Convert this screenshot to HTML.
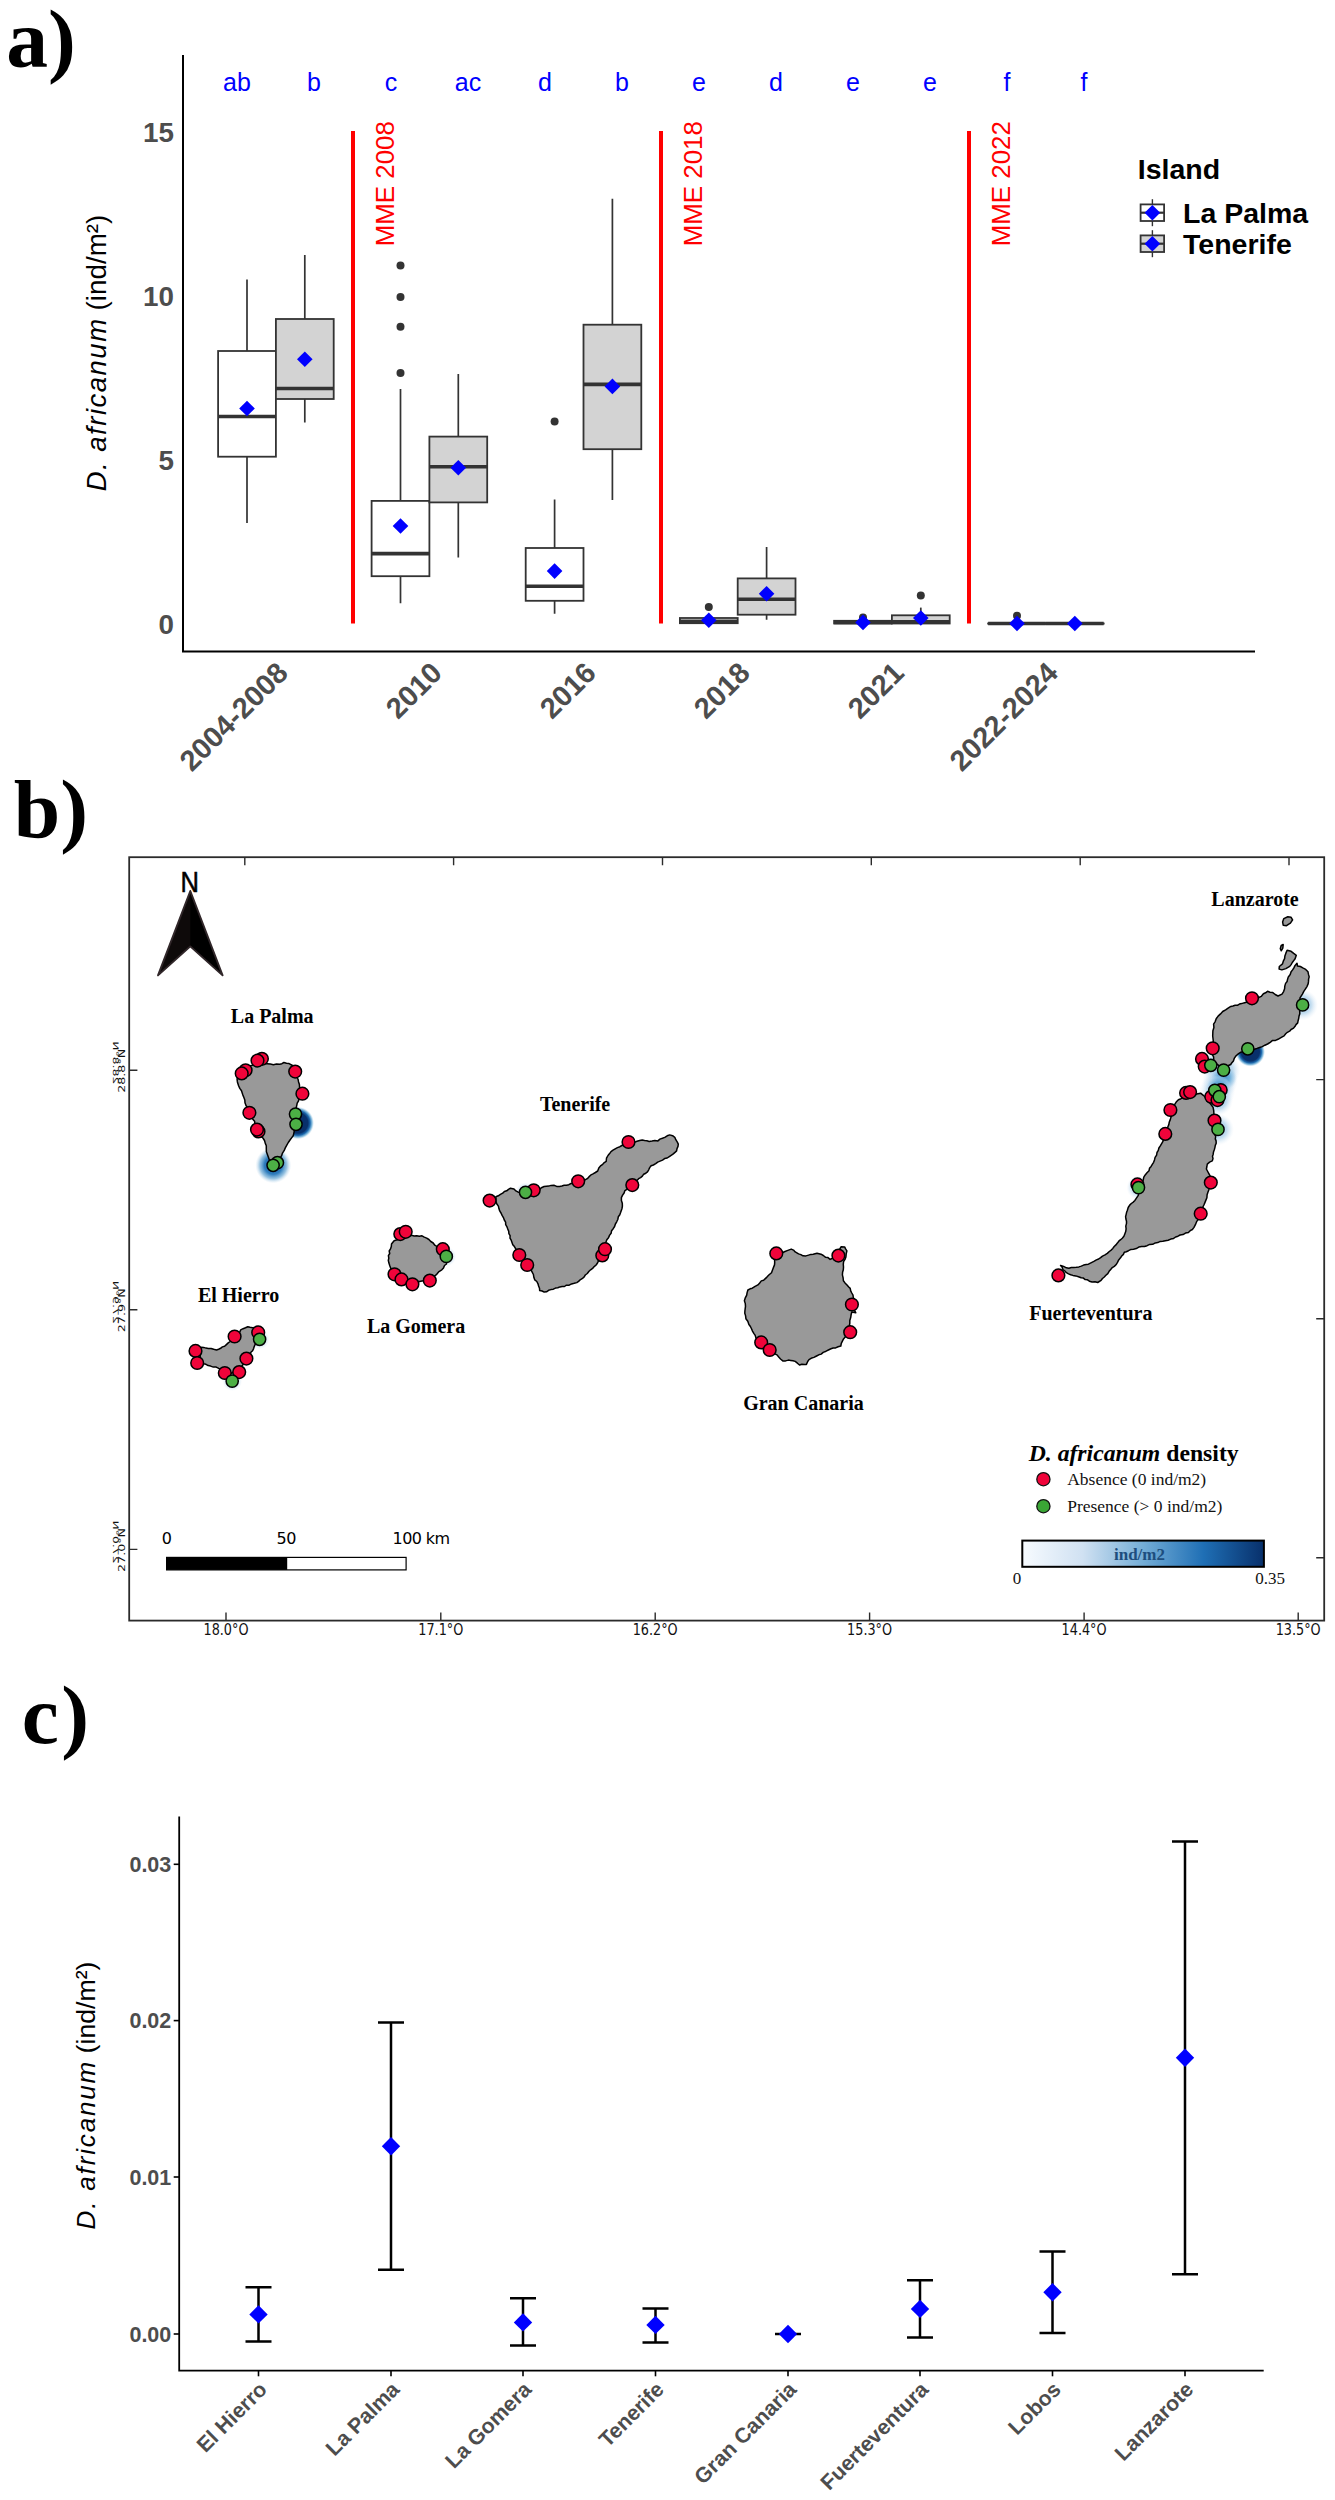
<!DOCTYPE html>
<html lang="en"><head><meta charset="utf-8"><title>D. africanum density figure</title>
<style>
html,body{margin:0;padding:0;background:#fff}
svg{display:block}
text{font-family:'Liberation Sans', sans-serif}
.ser{font-family:'Liberation Serif', serif}
</style></head><body>
<svg width="1335" height="2500" viewBox="0 0 1335 2500">
<rect width="1335" height="2500" fill="#fff"/>
<!-- panel a -->
<text class="ser" x="6.3" y="67.2" font-size="83.5" font-weight="bold" fill="#000">a)</text>
<path d="M183 55V651.5H1255" fill="none" stroke="#000" stroke-width="2"/>
<text x="174" y="141.5" font-size="27.8" font-weight="bold" fill="#4d4d4d" text-anchor="end">15</text>
<text x="174" y="305.5" font-size="27.8" font-weight="bold" fill="#4d4d4d" text-anchor="end">10</text>
<text x="174" y="469.5" font-size="27.8" font-weight="bold" fill="#4d4d4d" text-anchor="end">5</text>
<text x="174" y="633.5" font-size="27.8" font-weight="bold" fill="#4d4d4d" text-anchor="end">0</text>
<text transform="translate(106 353) rotate(-90)" font-size="27.5" fill="#000" text-anchor="middle"><tspan font-style="italic" letter-spacing="1.5">D. africanum</tspan><tspan dx="7" font-size="27.8">(ind/m²)</tspan></text>
<text x="237.0" y="91.3" font-size="25" fill="#0000ff" text-anchor="middle">ab</text>
<text x="314.0" y="91.3" font-size="25" fill="#0000ff" text-anchor="middle">b</text>
<text x="391.0" y="91.3" font-size="25" fill="#0000ff" text-anchor="middle">c</text>
<text x="468.0" y="91.3" font-size="25" fill="#0000ff" text-anchor="middle">ac</text>
<text x="545.0" y="91.3" font-size="25" fill="#0000ff" text-anchor="middle">d</text>
<text x="622.0" y="91.3" font-size="25" fill="#0000ff" text-anchor="middle">b</text>
<text x="699.0" y="91.3" font-size="25" fill="#0000ff" text-anchor="middle">e</text>
<text x="776.0" y="91.3" font-size="25" fill="#0000ff" text-anchor="middle">d</text>
<text x="853.0" y="91.3" font-size="25" fill="#0000ff" text-anchor="middle">e</text>
<text x="930.0" y="91.3" font-size="25" fill="#0000ff" text-anchor="middle">e</text>
<text x="1007.0" y="91.3" font-size="25" fill="#0000ff" text-anchor="middle">f</text>
<text x="1084.0" y="91.3" font-size="25" fill="#0000ff" text-anchor="middle">f</text>
<line x1="353" y1="131" x2="353" y2="623.5" stroke="#f00" stroke-width="4"/>
<text transform="translate(393.8 246.3) rotate(-90)" font-size="25.9" fill="#f00">MME 2008</text>
<line x1="661" y1="131" x2="661" y2="623.5" stroke="#f00" stroke-width="4"/>
<text transform="translate(701.8 246.3) rotate(-90)" font-size="25.9" fill="#f00">MME 2018</text>
<line x1="969" y1="131" x2="969" y2="623.5" stroke="#f00" stroke-width="4"/>
<text transform="translate(1009.8 246.3) rotate(-90)" font-size="25.9" fill="#f00">MME 2022</text>
<path d="M247.0 279.5V351.0M247.0 456.7V523.0" stroke="#333" stroke-width="1.7" fill="none"/><rect x="218.1" y="351.0" width="57.8" height="105.7" fill="#fff" stroke="#333" stroke-width="1.8"/><line x1="218.1" x2="275.9" y1="416.5" y2="416.5" stroke="#333" stroke-width="3.6"/>
<path d="M304.8 255.0V319.0M304.8 399.0V422.6" stroke="#333" stroke-width="1.7" fill="none"/><rect x="275.9" y="319.0" width="57.8" height="80.0" fill="#d3d3d3" stroke="#333" stroke-width="1.8"/><line x1="275.9" x2="333.7" y1="388.5" y2="388.5" stroke="#333" stroke-width="3.6"/>
<path d="M400.5 389.0V500.9M400.5 576.2V603.3" stroke="#333" stroke-width="1.7" fill="none"/><rect x="371.6" y="500.9" width="57.8" height="75.3" fill="#fff" stroke="#333" stroke-width="1.8"/><line x1="371.6" x2="429.4" y1="553.6" y2="553.6" stroke="#333" stroke-width="3.6"/><circle cx="400.5" cy="265.5" r="4" fill="#333"/><circle cx="400.5" cy="297.0" r="4" fill="#333"/><circle cx="400.5" cy="326.7" r="4" fill="#333"/><circle cx="400.5" cy="372.9" r="4" fill="#333"/>
<path d="M458.3 373.9V436.6M458.3 502.4V557.6" stroke="#333" stroke-width="1.7" fill="none"/><rect x="429.4" y="436.6" width="57.8" height="65.8" fill="#d3d3d3" stroke="#333" stroke-width="1.8"/><line x1="429.4" x2="487.2" y1="466.8" y2="466.8" stroke="#333" stroke-width="3.6"/>
<path d="M554.6 499.4V548.0M554.6 600.8V613.8" stroke="#333" stroke-width="1.7" fill="none"/><rect x="525.7" y="548.0" width="57.8" height="52.8" fill="#fff" stroke="#333" stroke-width="1.8"/><line x1="525.7" x2="583.5" y1="586.2" y2="586.2" stroke="#333" stroke-width="3.6"/><circle cx="554.6" cy="421.6" r="4" fill="#333"/>
<path d="M612.4 198.7V324.7M612.4 449.2V499.9" stroke="#333" stroke-width="1.7" fill="none"/><rect x="583.5" y="324.7" width="57.8" height="124.5" fill="#d3d3d3" stroke="#333" stroke-width="1.8"/><line x1="583.5" x2="641.3" y1="384.4" y2="384.4" stroke="#333" stroke-width="3.6"/>
<path d="M708.8 618.0V618.0M708.8 623.2V623.2" stroke="#333" stroke-width="1.7" fill="none"/><rect x="679.9" y="618.0" width="57.8" height="5.2" fill="#fff" stroke="#333" stroke-width="1.8"/><line x1="679.9" x2="737.7" y1="621.3" y2="621.3" stroke="#333" stroke-width="3.6"/><circle cx="708.8" cy="607.0" r="4" fill="#333"/>
<path d="M766.6 547.0V578.4M766.6 614.7V619.7" stroke="#333" stroke-width="1.7" fill="none"/><rect x="737.7" y="578.4" width="57.8" height="36.3" fill="#d3d3d3" stroke="#333" stroke-width="1.8"/><line x1="737.7" x2="795.5" y1="599.3" y2="599.3" stroke="#333" stroke-width="3.6"/>
<path d="M863.0 620.8V620.8M863.0 623.5V623.5" stroke="#333" stroke-width="1.7" fill="none"/><rect x="834.1" y="620.8" width="57.8" height="2.7" fill="#fff" stroke="#333" stroke-width="1.8"/><line x1="834.1" x2="891.9" y1="622.4" y2="622.4" stroke="#333" stroke-width="3.6"/><circle cx="863.0" cy="617.5" r="4" fill="#333"/>
<path d="M920.8 607.6V615.3M920.8 623.5V623.5" stroke="#333" stroke-width="1.7" fill="none"/><rect x="891.9" y="615.3" width="57.8" height="8.2" fill="#d3d3d3" stroke="#333" stroke-width="1.8"/><line x1="891.9" x2="949.7" y1="621.9" y2="621.9" stroke="#333" stroke-width="3.6"/><circle cx="920.8" cy="595.4" r="4" fill="#333"/>
<path d="M1017.0 623.5V623.5M1017.0 623.5V623.5" stroke="#333" stroke-width="1.7" fill="none"/><rect x="988.1" y="623.5" width="57.8" height="0.1" fill="#fff" stroke="#333" stroke-width="1.8"/><line x1="988.1" x2="1045.9" y1="623.5" y2="623.5" stroke="#333" stroke-width="3.6"/><circle cx="1017.0" cy="615.8" r="4" fill="#333"/>
<path d="M1074.8 623.5V623.5M1074.8 623.5V623.5" stroke="#333" stroke-width="1.7" fill="none"/><rect x="1045.9" y="623.5" width="57.8" height="0.1" fill="#d3d3d3" stroke="#333" stroke-width="1.8"/><line x1="1045.9" x2="1103.7" y1="623.5" y2="623.5" stroke="#333" stroke-width="3.6"/>
<path d="M247.0 400.7L254.8 408.5L247.0 416.3L239.2 408.5Z" fill="#0000ff"/>
<path d="M304.8 351.5L312.6 359.3L304.8 367.1L297.0 359.3Z" fill="#0000ff"/>
<path d="M400.5 518.2L408.3 526.0L400.5 533.8L392.7 526.0Z" fill="#0000ff"/>
<path d="M458.3 460.0L466.1 467.8L458.3 475.6L450.5 467.8Z" fill="#0000ff"/>
<path d="M554.6 563.3L562.4 571.1L554.6 578.9L546.8 571.1Z" fill="#0000ff"/>
<path d="M612.4 378.6L620.2 386.4L612.4 394.2L604.6 386.4Z" fill="#0000ff"/>
<path d="M708.8 612.4L716.6 620.2L708.8 628.0L701.0 620.2Z" fill="#0000ff"/>
<path d="M766.6 586.0L774.4 593.8L766.6 601.6L758.8 593.8Z" fill="#0000ff"/>
<path d="M863.0 614.6L870.8 622.4L863.0 630.2L855.2 622.4Z" fill="#0000ff"/>
<path d="M920.8 610.2L928.6 618.0L920.8 625.8L913.0 618.0Z" fill="#0000ff"/>
<path d="M1017.0 615.7L1024.8 623.5L1017.0 631.3L1009.2 623.5Z" fill="#0000ff"/>
<path d="M1074.8 615.7L1082.6 623.5L1074.8 631.3L1067.0 623.5Z" fill="#0000ff"/>
<text transform="translate(289.7 674.6) rotate(-45)" font-size="29" font-weight="bold" fill="#4d4d4d" text-anchor="end">2004-2008</text>
<text transform="translate(443.7 674.6) rotate(-45)" font-size="29" font-weight="bold" fill="#4d4d4d" text-anchor="end">2010</text>
<text transform="translate(597.7 674.6) rotate(-45)" font-size="29" font-weight="bold" fill="#4d4d4d" text-anchor="end">2016</text>
<text transform="translate(751.7 674.6) rotate(-45)" font-size="29" font-weight="bold" fill="#4d4d4d" text-anchor="end">2018</text>
<text transform="translate(905.7 674.6) rotate(-45)" font-size="29" font-weight="bold" fill="#4d4d4d" text-anchor="end">2021</text>
<text transform="translate(1059.7 674.6) rotate(-45)" font-size="29" font-weight="bold" fill="#4d4d4d" text-anchor="end">2022-2024</text>
<text x="1137.8" y="179.3" font-size="28.5" font-weight="bold" fill="#000">Island</text>
<line x1="1152.4" x2="1152.4" y1="199.2" y2="226.2" stroke="#333" stroke-width="1.4"/>
<rect x="1140.6" y="204.39999999999998" width="23.5" height="16.6" fill="#fff" stroke="#333" stroke-width="1.8"/>
<line x1="1140.6" x2="1164.1" y1="212.7" y2="212.7" stroke="#333" stroke-width="2.2"/>
<path d="M1152.4 204.9L1160.2 212.7L1152.4 220.5L1144.6 212.7Z" fill="#0000ff"/>
<text x="1183" y="222.5" font-size="28.5" font-weight="bold" fill="#000">La Palma</text>
<line x1="1152.4" x2="1152.4" y1="230.2" y2="257.2" stroke="#333" stroke-width="1.4"/>
<rect x="1140.6" y="235.39999999999998" width="23.5" height="16.6" fill="#d3d3d3" stroke="#333" stroke-width="1.8"/>
<line x1="1140.6" x2="1164.1" y1="243.7" y2="243.7" stroke="#333" stroke-width="2.2"/>
<path d="M1152.4 235.9L1160.2 243.7L1152.4 251.5L1144.6 243.7Z" fill="#0000ff"/>
<text x="1183" y="253.5" font-size="28.5" font-weight="bold" fill="#000">Tenerife</text>
<!-- panel b -->
<text class="ser" x="13.8" y="837.3" font-size="83.5" font-weight="bold" fill="#000">b)</text>
<defs>
<linearGradient id="cbar" x1="0" x2="1" y1="0" y2="0">
<stop offset="0" stop-color="#f7fbff"/><stop offset="0.25" stop-color="#d0e1f2"/><stop offset="0.5" stop-color="#74add6"/><stop offset="0.75" stop-color="#1f6fb5"/><stop offset="1" stop-color="#08306b"/>
</linearGradient>
<radialGradient id="hotD"><stop offset="0" stop-color="#08306b"/><stop offset="0.62" stop-color="#08306b"/><stop offset="0.76" stop-color="#1c69ae"/><stop offset="0.88" stop-color="#6aaed6" stop-opacity="0.75"/><stop offset="1" stop-color="#c6def0" stop-opacity="0"/></radialGradient>
<radialGradient id="hotM"><stop offset="0" stop-color="#0b4f97"/><stop offset="0.5" stop-color="#2f7dbd"/><stop offset="0.75" stop-color="#7fb5da" stop-opacity="0.8"/><stop offset="1" stop-color="#c6def0" stop-opacity="0"/></radialGradient>
<radialGradient id="hotS"><stop offset="0" stop-color="#3f8fc8"/><stop offset="0.45" stop-color="#62a8d8" stop-opacity="0.9"/><stop offset="0.8" stop-color="#a5cde9" stop-opacity="0.55"/><stop offset="1" stop-color="#d3e6f4" stop-opacity="0"/></radialGradient>
<radialGradient id="hotL"><stop offset="0" stop-color="#86bbdf" stop-opacity="0.95"/><stop offset="0.55" stop-color="#b3d4ec" stop-opacity="0.8"/><stop offset="1" stop-color="#e3eef8" stop-opacity="0"/></radialGradient>
</defs>
<circle cx="1302.6" cy="1004.9" r="15.5" fill="url(#hotL)"/>
<circle cx="1223.6" cy="1070.1" r="17" fill="url(#hotL)"/>
<circle cx="1220.1" cy="1080.7" r="18" fill="url(#hotL)"/>
<circle cx="1217.2" cy="1091.3" r="18" fill="url(#hotL)"/>
<circle cx="1218.0" cy="1100.7" r="15" fill="url(#hotL)"/>
<circle cx="1218.0" cy="1129.4" r="16" fill="url(#hotL)"/>
<circle cx="1138.5" cy="1187.6" r="12" fill="url(#hotL)"/>
<circle cx="1210.8" cy="1065.3" r="12" fill="url(#hotL)"/>
<circle cx="259.6" cy="1339.3" r="10" fill="url(#hotL)"/>
<circle cx="232.2" cy="1381.1" r="10" fill="url(#hotL)"/>
<circle cx="446.3" cy="1256.4" r="10" fill="url(#hotL)"/>
<circle cx="525.5" cy="1192.3" r="10" fill="url(#hotL)"/>
<circle cx="1223.5" cy="1077.5" r="13.5" fill="url(#hotS)"/>
<circle cx="1218.5" cy="1087.5" r="12.5" fill="url(#hotS)"/>
<circle cx="273.3" cy="1165.3" r="18" fill="url(#hotM)"/>
<circle cx="297.8" cy="1123.0" r="16.3" fill="url(#hotD)"/>
<circle cx="1250.3" cy="1051.8" r="14.8" fill="url(#hotD)"/>
<path d="M237.1 1079.3L238.3 1075.1L240.0 1073.2L242.0 1071.5L244.6 1069.7L247.1 1067.5L249.6 1066.0L252.5 1065.3L255.5 1064.3L258.7 1063.9L261.6 1064.5L264.3 1063.7L267.1 1063.7L270.3 1064.1L273.4 1064.7L276.5 1064.0L279.7 1064.2L281.9 1063.7L283.9 1062.5L286.5 1063.3L289.1 1063.6L292.5 1065.5L293.3 1068.4L294.9 1070.9L295.9 1072.9L297.0 1074.9L296.9 1077.3L298.1 1079.3L298.6 1082.0L299.4 1084.5L299.6 1087.7L299.9 1090.8L299.9 1093.5L299.0 1096.0L299.0 1098.7L298.4 1101.2L297.2 1103.2L296.7 1105.6L296.1 1108.2L295.1 1110.8L294.3 1113.1L294.7 1115.5L294.4 1117.8L294.5 1120.2L294.4 1122.8L294.5 1125.4L294.5 1128.0L294.3 1130.7L293.8 1133.3L293.2 1135.8L291.6 1137.9L290.0 1140.0L288.3 1142.5L286.8 1145.2L285.3 1147.9L284.1 1150.7L282.5 1153.1L281.6 1155.7L279.6 1158.8L277.6 1160.0L275.5 1161.0L271.2 1161.4L269.4 1160.0L268.5 1157.4L267.5 1154.8L266.4 1151.8L266.3 1148.5L266.3 1145.8L265.3 1143.4L264.5 1140.5L262.9 1138.0L261.1 1136.7L259.7 1134.9L259.2 1132.5L258.4 1130.2L256.9 1128.1L256.4 1125.7L254.9 1123.7L254.6 1121.2L252.8 1119.2L251.6 1117.0L250.6 1113.9L248.8 1111.3L248.0 1108.2L246.0 1105.5L245.0 1102.8L244.8 1099.9L243.8 1097.2L242.9 1095.1L242.2 1093.0L241.5 1090.8L239.8 1088.4L238.6 1085.7L237.4 1081.9Z" fill="#999" stroke="#000" stroke-width="1.5" stroke-linejoin="round"/>
<path d="M201.4 1347.3L203.7 1347.4L206.0 1348.1L208.3 1348.4L211.1 1348.5L213.7 1349.3L216.5 1350.0L218.6 1349.2L220.6 1348.3L222.4 1346.9L224.6 1346.3L226.4 1344.6L228.2 1342.9L230.2 1341.5L232.1 1339.9L234.5 1338.9L236.3 1337.1L238.0 1334.9L239.6 1332.5L240.7 1329.9L243.1 1328.7L245.5 1327.8L247.8 1326.7L250.0 1327.3L252.4 1327.7L255.0 1327.6L255.8 1329.7L256.9 1331.7L258.2 1333.5L258.2 1336.3L257.5 1338.9L257.3 1341.7L255.5 1343.8L254.4 1346.1L253.6 1348.6L252.6 1350.7L250.9 1352.3L250.1 1354.4L248.6 1356.1L247.5 1358.1L246.6 1360.2L245.2 1362.2L243.4 1364.0L242.0 1366.1L240.3 1367.9L238.2 1369.3L236.1 1370.5L234.1 1372.3L231.4 1373.2L228.7 1371.7L225.7 1370.8L223.4 1369.9L221.1 1369.2L218.7 1368.4L216.2 1367.1L213.3 1367.1L210.6 1366.1L208.2 1365.6L206.0 1364.3L203.6 1363.8L202.4 1361.9L201.6 1359.7L200.1 1357.9L200.3 1355.0L200.4 1352.1L200.3 1349.7Z" fill="#999" stroke="#000" stroke-width="1.5" stroke-linejoin="round"/>
<path d="M394.1 1240.7L397.1 1239.7L399.9 1238.5L402.3 1238.2L404.6 1237.4L407.0 1237.0L409.0 1235.4L411.5 1235.3L414.1 1236.0L416.7 1235.8L419.3 1236.3L422.0 1235.8L424.3 1237.1L426.7 1238.1L428.9 1239.5L430.8 1241.5L433.2 1243.0L434.8 1245.2L437.2 1246.6L439.1 1248.8L441.6 1250.0L443.5 1252.0L444.5 1254.7L446.5 1256.9L446.2 1259.2L446.7 1261.5L446.5 1264.0L444.5 1265.5L443.5 1267.9L441.8 1269.8L439.0 1271.6L436.9 1274.1L434.8 1276.0L432.1 1277.0L430.1 1278.9L427.3 1279.5L424.7 1280.8L421.9 1281.0L419.6 1281.4L417.2 1281.3L414.9 1281.7L412.6 1282.5L410.3 1282.0L407.9 1281.6L405.6 1281.1L403.2 1280.3L400.9 1278.7L398.8 1276.9L396.2 1275.6L395.1 1273.6L393.4 1272.1L391.9 1270.4L390.8 1268.5L389.8 1265.8L388.9 1263.1L388.3 1260.4L388.8 1258.1L388.4 1255.7L389.7 1253.5L389.2 1251.0L390.5 1248.9L391.3 1246.6L391.5 1244.0Z" fill="#999" stroke="#000" stroke-width="1.5" stroke-linejoin="round"/>
<path d="M495.9 1196.8L498.3 1195.8L500.4 1194.4L502.7 1193.1L504.4 1191.5L506.7 1190.8L508.5 1189.3L510.5 1188.2L514.0 1188.9L515.9 1190.9L518.2 1192.2L520.9 1192.5L523.4 1192.2L526.0 1191.6L528.6 1191.5L531.2 1191.3L533.7 1190.3L536.3 1190.3L539.0 1189.9L541.4 1187.8L544.1 1186.5L546.4 1186.2L548.7 1186.1L551.0 1185.4L553.9 1185.3L556.7 1186.4L559.6 1186.5L561.9 1186.0L564.1 1185.3L566.4 1185.3L568.8 1184.7L571.0 1183.5L573.4 1183.1L575.7 1182.4L577.9 1181.4L580.3 1181.2L582.5 1180.2L585.0 1179.9L587.3 1178.7L588.9 1176.9L590.6 1175.2L593.0 1173.9L595.4 1172.5L597.7 1171.0L598.8 1168.0L600.9 1165.6L602.7 1164.3L604.3 1162.6L606.2 1161.4L606.5 1158.2L608.0 1155.5L609.6 1153.6L611.0 1151.6L613.0 1150.2L615.2 1148.8L617.4 1147.6L619.9 1146.7L621.9 1145.5L624.1 1144.7L626.5 1144.5L628.5 1143.4L631.3 1142.2L634.3 1142.4L637.0 1141.3L639.7 1140.5L642.2 1140.0L644.6 1140.5L646.9 1140.8L649.2 1141.5L652.0 1141.1L654.9 1140.6L657.9 1140.9L659.9 1139.1L662.4 1138.3L664.8 1137.4L667.2 1135.8L669.7 1134.9L672.6 1135.7L674.8 1137.3L675.8 1139.7L677.2 1141.9L678.3 1144.1L678.0 1146.4L677.0 1148.6L676.6 1150.9L675.0 1152.4L673.3 1153.9L671.5 1155.2L669.3 1156.6L667.2 1158.0L664.6 1158.6L662.5 1160.1L660.1 1161.1L657.7 1162.1L655.7 1163.7L653.4 1165.0L651.1 1165.8L649.7 1167.6L648.7 1169.8L647.5 1171.8L645.8 1173.2L643.7 1174.2L642.4 1176.1L640.6 1177.6L638.6 1178.7L637.0 1180.4L635.5 1182.1L633.7 1183.5L632.0 1184.9L630.4 1186.5L628.6 1187.9L626.9 1189.4L624.9 1190.6L624.1 1193.0L622.6 1195.2L621.4 1197.6L621.4 1200.5L622.3 1203.3L622.4 1206.1L622.0 1208.4L621.3 1210.5L620.6 1212.6L619.8 1214.7L618.3 1216.8L617.8 1219.5L616.7 1221.8L615.4 1224.0L614.6 1226.5L613.2 1228.7L611.6 1230.7L611.1 1233.3L609.5 1235.4L608.5 1237.8L606.8 1239.8L605.9 1242.3L605.7 1245.1L604.7 1247.6L603.1 1249.9L602.6 1252.6L601.7 1254.8L600.3 1256.7L599.3 1258.7L598.5 1260.9L597.5 1263.0L596.1 1265.0L594.2 1266.6L592.6 1268.4L590.6 1269.8L588.8 1271.5L587.3 1273.5L585.3 1275.0L584.0 1277.1L582.1 1278.7L580.2 1279.8L578.6 1281.4L576.8 1282.6L574.2 1283.3L571.6 1283.9L569.2 1285.2L566.4 1285.2L564.5 1286.5L562.1 1286.6L559.9 1286.9L557.8 1287.8L555.5 1288.1L553.3 1289.2L550.9 1289.6L548.6 1290.3L546.5 1291.8L544.2 1292.1L542.1 1291.0L539.7 1290.6L539.5 1288.2L538.6 1286.0L538.0 1283.8L536.8 1281.5L534.8 1279.9L533.9 1277.6L533.4 1274.5L531.9 1271.7L530.7 1268.8L528.4 1266.6L527.5 1264.5L525.6 1263.2L524.8 1261.0L523.0 1259.6L521.9 1257.7L519.6 1255.8L517.9 1253.5L516.7 1250.9L515.6 1248.7L514.4 1246.6L512.8 1244.7L512.0 1242.4L511.2 1240.2L510.0 1238.2L510.1 1235.7L508.9 1233.7L508.7 1231.3L507.8 1229.1L507.0 1226.9L505.7 1224.7L505.6 1222.1L504.3 1220.0L503.4 1217.6L502.1 1215.4L501.0 1213.0L499.7 1210.9L498.9 1208.6L498.4 1206.1L496.7 1203.8L495.9 1201.0Z" fill="#999" stroke="#000" stroke-width="1.5" stroke-linejoin="round"/>
<path d="M774.9 1258.0L776.7 1256.4L779.0 1255.4L780.6 1253.5L782.8 1252.5L785.0 1251.5L787.2 1250.6L791.2 1249.1L793.5 1250.1L795.2 1251.9L798.6 1253.9L800.9 1254.6L803.0 1255.8L805.9 1255.9L808.6 1255.1L810.8 1254.4L813.2 1254.2L817.0 1253.3L821.0 1254.2L823.3 1255.5L825.4 1257.2L828.0 1257.6L830.1 1259.4L833.3 1258.0L834.5 1255.5L836.0 1253.0L837.8 1250.7L839.8 1249.0L841.2 1246.7L844.6 1246.9L845.6 1248.9L846.9 1250.8L846.2 1253.9L845.9 1257.1L845.0 1259.4L843.6 1261.5L843.3 1264.3L843.5 1267.1L843.3 1269.7L842.6 1272.3L842.4 1274.9L843.1 1277.7L843.4 1280.7L845.0 1282.9L847.0 1285.0L848.5 1286.8L850.2 1288.4L850.7 1290.8L851.8 1293.0L853.0 1295.1L853.3 1297.5L854.6 1300.1L854.8 1303.0L853.9 1305.8L853.8 1308.6L854.7 1310.6L855.8 1312.8L851.8 1312.0L851.1 1314.8L850.7 1317.6L849.8 1320.4L849.8 1323.3L849.3 1325.9L849.2 1328.5L849.1 1331.1L847.5 1334.0L845.6 1336.6L843.7 1338.7L842.4 1341.2L841.3 1343.4L840.8 1346.0L838.1 1346.7L835.6 1347.9L833.2 1348.0L831.0 1348.8L828.9 1349.8L826.1 1351.2L823.2 1352.4L821.2 1354.1L818.8 1354.8L816.6 1356.0L813.9 1357.4L811.1 1358.3L809.0 1359.6L807.7 1361.5L806.4 1364.4L804.2 1364.6L801.9 1364.2L799.5 1365.0L797.4 1363.2L795.2 1361.4L793.0 1360.7L790.7 1360.4L788.4 1360.1L785.6 1360.9L782.8 1360.9L780.5 1359.0L778.5 1356.8L777.0 1354.9L774.8 1353.8L772.8 1352.8L770.9 1351.6L768.9 1350.5L767.1 1349.1L765.2 1347.6L763.0 1346.5L760.9 1345.3L759.2 1343.5L757.4 1340.7L755.9 1337.8L755.2 1335.4L753.8 1333.3L752.5 1331.1L751.5 1328.8L750.4 1326.5L748.9 1324.5L747.8 1321.3L745.9 1318.7L745.6 1315.9L744.8 1313.2L744.9 1310.9L745.2 1308.6L745.5 1306.4L745.3 1303.6L744.4 1300.7L745.3 1297.8L746.7 1295.1L747.1 1292.6L747.9 1290.0L750.1 1288.8L752.3 1288.2L755.1 1286.4L757.9 1284.9L759.7 1283.0L761.3 1280.9L763.6 1280.2L765.3 1278.6L766.9 1277.1L769.1 1274.8L771.5 1272.7L772.6 1269.8L773.6 1267.1L774.5 1264.9L774.7 1262.6L774.6 1260.3Z" fill="#999" stroke="#000" stroke-width="1.5" stroke-linejoin="round"/>
<path d="M1212.9 1030.7L1213.9 1027.5L1213.6 1024.1L1215.2 1021.6L1216.2 1018.8L1218.1 1016.1L1220.5 1013.9L1222.7 1011.5L1225.6 1009.8L1228.1 1008.1L1230.8 1006.4L1233.0 1006.0L1235.1 1005.3L1237.4 1005.3L1239.4 1004.1L1241.6 1003.6L1243.8 1002.9L1246.4 1002.3L1249.1 1001.8L1251.8 1001.4L1253.9 1000.0L1255.9 998.7L1258.2 997.8L1261.2 996.4L1263.4 993.8L1265.6 992.8L1267.5 991.3L1270.0 992.2L1272.8 992.6L1275.2 994.5L1278.0 996.0L1282.0 994.1L1283.6 991.6L1284.6 988.8L1284.8 986.1L1285.6 983.4L1287.1 981.5L1287.6 979.2L1288.3 976.9L1290.2 974.6L1291.1 971.8L1292.6 969.9L1293.9 967.9L1295.1 965.4L1297.0 963.2L1297.5 966.0L1300.4 966.5L1302.8 967.9L1305.7 969.4L1308.0 971.8L1308.5 974.4L1309.2 976.9L1308.6 979.1L1308.5 981.4L1308.2 983.6L1307.1 986.3L1305.5 988.8L1303.8 991.4L1302.4 994.1L1300.0 997.9L1300.1 1001.2L1299.9 1004.5L1300.1 1007.8L1299.7 1011.1L1299.8 1013.7L1299.0 1016.3L1298.7 1018.5L1298.1 1020.7L1297.7 1022.9L1296.0 1024.6L1294.9 1026.6L1293.2 1028.4L1291.1 1029.5L1289.6 1031.2L1287.4 1032.3L1285.7 1033.8L1284.1 1035.9L1281.8 1037.1L1278.0 1039.3L1275.5 1040.4L1272.6 1040.4L1270.2 1042.3L1267.6 1044.0L1264.9 1045.2L1262.3 1046.6L1259.6 1047.5L1257.0 1048.4L1254.4 1049.2L1251.7 1049.6L1249.1 1050.5L1246.6 1051.3L1244.0 1051.7L1241.4 1051.9L1238.6 1053.6L1236.1 1055.7L1234.4 1058.1L1233.4 1060.9L1231.9 1062.7L1230.7 1064.5L1226.9 1066.3L1224.3 1067.0L1221.5 1066.9L1219.4 1065.8L1217.3 1064.5L1215.2 1063.4L1213.7 1059.6L1213.6 1056.8L1212.2 1054.3L1213.2 1052.2L1213.0 1049.9L1213.9 1047.7L1212.9 1044.5L1213.3 1041.2L1213.0 1038.5L1212.7 1036.0L1212.8 1033.4Z" fill="#999" stroke="#000" stroke-width="1.5" stroke-linejoin="round"/>
<path d="M1279.3 966.5L1282.5 963.9L1283.3 961.2L1284.6 958.7L1284.9 955.9L1285.8 953.4L1287.1 950.2L1291.1 951.3L1293.7 953.4L1296.3 955.3L1295.1 958.7L1293.7 960.6L1292.3 962.5L1291.1 964.6L1289.7 966.4L1285.9 968.6L1281.9 969.9L1279.1 969.1Z" fill="#999" stroke="#000" stroke-width="1.5" stroke-linejoin="round"/>
<path d="M1282.6 921.9L1283.8 918.6L1287.8 916.7L1291.1 917.3L1292.6 919.9L1290.4 923.2L1288.4 924.4L1286.5 925.7L1283.2 925.2Z" fill="#999" stroke="#000" stroke-width="1.5" stroke-linejoin="round"/>
<path d="M1281.2 945.5L1283.2 944.5L1282.8 948.1L1281.2 950.8L1280.3 948.8Z" fill="#999" stroke="#000" stroke-width="1.5" stroke-linejoin="round"/>
<path d="M1178.4 1099.8L1181.0 1098.7L1183.4 1097.4L1185.5 1096.6L1187.7 1096.2L1189.9 1096.4L1192.1 1095.4L1194.5 1095.2L1196.6 1094.1L1200.6 1093.2L1202.7 1094.9L1204.7 1096.5L1206.4 1098.8L1207.3 1101.4L1209.6 1102.8L1211.2 1104.8L1213.1 1107.4L1213.7 1110.5L1213.9 1113.4L1212.9 1116.3L1213.5 1119.0L1213.7 1121.7L1213.7 1124.5L1214.6 1126.9L1214.8 1129.4L1214.0 1131.9L1214.7 1134.4L1215.7 1136.5L1215.3 1138.9L1216.1 1140.9L1216.2 1143.3L1215.3 1145.4L1214.9 1147.6L1214.3 1149.8L1213.5 1151.9L1213.2 1154.2L1212.5 1156.3L1213.0 1158.6L1212.3 1160.9L1209.6 1162.1L1207.3 1164.1L1206.9 1166.5L1206.4 1169.0L1207.7 1171.5L1209.0 1173.9L1210.2 1176.2L1210.4 1178.9L1209.8 1181.0L1209.5 1183.2L1209.7 1185.4L1209.3 1187.7L1208.8 1189.9L1208.0 1192.0L1207.1 1194.8L1206.9 1197.7L1205.8 1200.4L1204.9 1202.6L1204.0 1204.7L1203.0 1206.8L1202.3 1209.1L1202.0 1211.5L1200.5 1213.4L1199.7 1215.6L1198.6 1217.6L1197.9 1219.8L1196.6 1221.7L1195.4 1224.7L1194.0 1227.4L1192.4 1229.5L1190.2 1230.7L1188.4 1232.6L1185.5 1233.1L1183.0 1234.6L1180.1 1235.0L1178.0 1236.2L1175.6 1237.0L1173.6 1238.4L1170.8 1239.1L1168.1 1240.2L1165.3 1240.8L1162.8 1241.3L1160.2 1241.4L1157.8 1242.6L1155.3 1242.9L1152.7 1244.3L1149.7 1244.4L1147.1 1245.7L1144.4 1246.5L1141.6 1246.5L1138.8 1247.1L1136.3 1248.6L1133.5 1249.2L1130.6 1249.6L1128.5 1250.7L1126.3 1251.7L1124.3 1252.3L1123.4 1254.4L1121.7 1256.0L1120.5 1257.8L1118.7 1259.9L1117.5 1262.4L1116.0 1264.8L1114.3 1266.4L1112.3 1267.6L1110.7 1269.4L1109.1 1271.3L1107.8 1273.6L1105.9 1275.3L1104.3 1277.0L1102.5 1278.5L1101.1 1280.3L1097.7 1282.5L1095.0 1281.7L1092.1 1282.0L1089.4 1281.2L1087.5 1279.8L1085.2 1279.6L1083.4 1278.1L1081.2 1277.8L1078.5 1276.7L1075.8 1275.9L1072.9 1275.4L1070.7 1274.7L1068.5 1273.9L1066.4 1272.7L1064.9 1271.0L1062.9 1269.6L1062.2 1267.2L1060.6 1265.4L1063.6 1266.4L1066.4 1267.8L1068.9 1268.2L1071.3 1267.5L1073.8 1267.4L1076.3 1267.3L1078.9 1266.9L1081.3 1266.1L1083.6 1265.1L1086.2 1264.6L1088.4 1264.2L1090.4 1263.2L1092.4 1262.2L1094.3 1261.2L1096.4 1259.9L1098.6 1259.0L1100.6 1257.6L1102.5 1256.1L1105.0 1254.9L1107.3 1253.4L1109.3 1251.5L1111.2 1250.1L1112.8 1248.4L1114.2 1246.5L1115.9 1244.9L1117.4 1243.1L1118.8 1241.2L1120.6 1239.7L1122.3 1238.2L1123.9 1236.2L1124.8 1233.9L1125.7 1231.6L1126.1 1228.9L1125.8 1226.1L1126.5 1223.4L1126.5 1221.2L1125.9 1219.0L1125.6 1216.7L1126.1 1214.6L1126.6 1212.3L1127.4 1210.2L1128.2 1207.5L1129.7 1205.1L1131.3 1203.5L1133.3 1202.1L1134.9 1200.4L1136.6 1197.9L1138.3 1195.4L1138.7 1193.1L1139.2 1190.8L1140.5 1188.8L1141.3 1185.9L1142.0 1183.0L1143.2 1180.2L1143.8 1177.2L1145.2 1174.9L1147.0 1172.7L1149.0 1170.8L1149.5 1168.3L1151.1 1166.4L1152.3 1164.3L1153.6 1162.3L1154.5 1159.9L1155.1 1157.4L1156.6 1155.1L1157.0 1152.5L1158.3 1150.4L1158.9 1148.0L1160.3 1145.9L1161.5 1143.8L1162.8 1141.7L1163.5 1139.3L1164.4 1136.8L1165.6 1134.5L1166.4 1132.0L1166.8 1129.4L1167.8 1127.0L1168.8 1124.6L1169.3 1122.0L1170.3 1119.6L1170.9 1117.4L1171.8 1115.3L1171.9 1113.0L1172.9 1110.3L1173.3 1107.4L1174.4 1104.8L1176.2 1102.1Z" fill="#999" stroke="#000" stroke-width="1.5" stroke-linejoin="round"/>
<circle cx="261.9" cy="1058.8" r="6.35" fill="#f0043a" stroke="#000" stroke-width="1.5"/>
<circle cx="257.5" cy="1060.6" r="6.35" fill="#f0043a" stroke="#000" stroke-width="1.5"/>
<circle cx="245.6" cy="1070.3" r="6.35" fill="#f0043a" stroke="#000" stroke-width="1.5"/>
<circle cx="241.7" cy="1073.4" r="6.35" fill="#f0043a" stroke="#000" stroke-width="1.5"/>
<circle cx="295.2" cy="1071.6" r="6.35" fill="#f0043a" stroke="#000" stroke-width="1.5"/>
<circle cx="302.4" cy="1093.7" r="6.35" fill="#f0043a" stroke="#000" stroke-width="1.5"/>
<circle cx="249.4" cy="1112.8" r="6.35" fill="#f0043a" stroke="#000" stroke-width="1.5"/>
<circle cx="258.5" cy="1131.4" r="6.35" fill="#f0043a" stroke="#000" stroke-width="1.5"/>
<circle cx="257.0" cy="1129.6" r="6.35" fill="#f0043a" stroke="#000" stroke-width="1.5"/>
<circle cx="295.5" cy="1114.1" r="6.1" fill="#4caf45" stroke="#000" stroke-width="1.5"/>
<circle cx="296.0" cy="1124.3" r="6.1" fill="#4caf45" stroke="#000" stroke-width="1.5"/>
<circle cx="277.4" cy="1162.7" r="6.1" fill="#4caf45" stroke="#000" stroke-width="1.5"/>
<circle cx="273.1" cy="1165.3" r="6.1" fill="#4caf45" stroke="#000" stroke-width="1.5"/>
<circle cx="234.6" cy="1336.5" r="6.35" fill="#f0043a" stroke="#000" stroke-width="1.5"/>
<circle cx="258.2" cy="1332.4" r="6.35" fill="#f0043a" stroke="#000" stroke-width="1.5"/>
<circle cx="195.5" cy="1350.9" r="6.35" fill="#f0043a" stroke="#000" stroke-width="1.5"/>
<circle cx="197.2" cy="1363.0" r="6.35" fill="#f0043a" stroke="#000" stroke-width="1.5"/>
<circle cx="246.4" cy="1358.6" r="6.35" fill="#f0043a" stroke="#000" stroke-width="1.5"/>
<circle cx="224.8" cy="1373.0" r="6.35" fill="#f0043a" stroke="#000" stroke-width="1.5"/>
<circle cx="239.2" cy="1372.1" r="6.35" fill="#f0043a" stroke="#000" stroke-width="1.5"/>
<circle cx="259.6" cy="1339.3" r="6.1" fill="#4caf45" stroke="#000" stroke-width="1.5"/>
<circle cx="232.2" cy="1381.1" r="6.1" fill="#4caf45" stroke="#000" stroke-width="1.5"/>
<circle cx="400.3" cy="1234.1" r="6.35" fill="#f0043a" stroke="#000" stroke-width="1.5"/>
<circle cx="405.7" cy="1231.8" r="6.35" fill="#f0043a" stroke="#000" stroke-width="1.5"/>
<circle cx="442.8" cy="1249.2" r="6.35" fill="#f0043a" stroke="#000" stroke-width="1.5"/>
<circle cx="394.5" cy="1274.3" r="6.35" fill="#f0043a" stroke="#000" stroke-width="1.5"/>
<circle cx="401.5" cy="1279.4" r="6.35" fill="#f0043a" stroke="#000" stroke-width="1.5"/>
<circle cx="412.4" cy="1284.3" r="6.35" fill="#f0043a" stroke="#000" stroke-width="1.5"/>
<circle cx="429.8" cy="1280.6" r="6.35" fill="#f0043a" stroke="#000" stroke-width="1.5"/>
<circle cx="446.3" cy="1256.4" r="6.1" fill="#4caf45" stroke="#000" stroke-width="1.5"/>
<circle cx="628.5" cy="1142.0" r="6.35" fill="#f0043a" stroke="#000" stroke-width="1.5"/>
<circle cx="578.2" cy="1181.3" r="6.35" fill="#f0043a" stroke="#000" stroke-width="1.5"/>
<circle cx="533.7" cy="1190.3" r="6.35" fill="#f0043a" stroke="#000" stroke-width="1.5"/>
<circle cx="489.6" cy="1200.6" r="6.35" fill="#f0043a" stroke="#000" stroke-width="1.5"/>
<circle cx="632.3" cy="1185.1" r="6.35" fill="#f0043a" stroke="#000" stroke-width="1.5"/>
<circle cx="602.3" cy="1255.4" r="6.35" fill="#f0043a" stroke="#000" stroke-width="1.5"/>
<circle cx="605.0" cy="1249.2" r="6.35" fill="#f0043a" stroke="#000" stroke-width="1.5"/>
<circle cx="519.3" cy="1255.0" r="6.35" fill="#f0043a" stroke="#000" stroke-width="1.5"/>
<circle cx="527.2" cy="1265.0" r="6.35" fill="#f0043a" stroke="#000" stroke-width="1.5"/>
<circle cx="525.5" cy="1192.3" r="6.1" fill="#4caf45" stroke="#000" stroke-width="1.5"/>
<circle cx="776.3" cy="1253.4" r="6.35" fill="#f0043a" stroke="#000" stroke-width="1.5"/>
<circle cx="838.4" cy="1255.6" r="6.35" fill="#f0043a" stroke="#000" stroke-width="1.5"/>
<circle cx="851.9" cy="1304.5" r="6.35" fill="#f0043a" stroke="#000" stroke-width="1.5"/>
<circle cx="850.2" cy="1332.2" r="6.35" fill="#f0043a" stroke="#000" stroke-width="1.5"/>
<circle cx="761.2" cy="1342.4" r="6.35" fill="#f0043a" stroke="#000" stroke-width="1.5"/>
<circle cx="769.7" cy="1350.0" r="6.35" fill="#f0043a" stroke="#000" stroke-width="1.5"/>
<circle cx="1252.0" cy="998.3" r="6.35" fill="#f0043a" stroke="#000" stroke-width="1.5"/>
<circle cx="1212.7" cy="1048.3" r="6.35" fill="#f0043a" stroke="#000" stroke-width="1.5"/>
<circle cx="1202.0" cy="1058.9" r="6.35" fill="#f0043a" stroke="#000" stroke-width="1.5"/>
<circle cx="1204.7" cy="1066.6" r="6.35" fill="#f0043a" stroke="#000" stroke-width="1.5"/>
<circle cx="1186.1" cy="1092.9" r="6.35" fill="#f0043a" stroke="#000" stroke-width="1.5"/>
<circle cx="1190.1" cy="1092.1" r="6.35" fill="#f0043a" stroke="#000" stroke-width="1.5"/>
<circle cx="1170.4" cy="1110.0" r="6.35" fill="#f0043a" stroke="#000" stroke-width="1.5"/>
<circle cx="1165.3" cy="1133.9" r="6.35" fill="#f0043a" stroke="#000" stroke-width="1.5"/>
<circle cx="1210.8" cy="1182.6" r="6.35" fill="#f0043a" stroke="#000" stroke-width="1.5"/>
<circle cx="1200.7" cy="1213.7" r="6.35" fill="#f0043a" stroke="#000" stroke-width="1.5"/>
<circle cx="1058.4" cy="1275.4" r="6.35" fill="#f0043a" stroke="#000" stroke-width="1.5"/>
<circle cx="1214.5" cy="1120.6" r="6.35" fill="#f0043a" stroke="#000" stroke-width="1.5"/>
<circle cx="1137.4" cy="1184.4" r="6.35" fill="#f0043a" stroke="#000" stroke-width="1.5"/>
<circle cx="1220.7" cy="1090.0" r="6.35" fill="#f0043a" stroke="#000" stroke-width="1.5"/>
<circle cx="1211.3" cy="1096.7" r="6.35" fill="#f0043a" stroke="#000" stroke-width="1.5"/>
<circle cx="1217.5" cy="1100.1" r="6.35" fill="#f0043a" stroke="#000" stroke-width="1.5"/>
<circle cx="1302.6" cy="1004.9" r="6.1" fill="#4caf45" stroke="#000" stroke-width="1.5"/>
<circle cx="1247.8" cy="1048.8" r="6.1" fill="#4caf45" stroke="#000" stroke-width="1.5"/>
<circle cx="1210.8" cy="1065.3" r="6.1" fill="#4caf45" stroke="#000" stroke-width="1.5"/>
<circle cx="1223.6" cy="1070.1" r="6.1" fill="#4caf45" stroke="#000" stroke-width="1.5"/>
<circle cx="1214.8" cy="1090.3" r="6.1" fill="#4caf45" stroke="#000" stroke-width="1.5"/>
<circle cx="1219.3" cy="1096.7" r="6.1" fill="#4caf45" stroke="#000" stroke-width="1.5"/>
<circle cx="1218.0" cy="1129.4" r="6.1" fill="#4caf45" stroke="#000" stroke-width="1.5"/>
<circle cx="1138.5" cy="1187.6" r="6.1" fill="#4caf45" stroke="#000" stroke-width="1.5"/>
<rect x="129.2" y="857.2" width="1195" height="763.4" fill="none" stroke="#2b2b2b" stroke-width="1.8"/>
<path d="M244.8 857.2v8M453.6 857.2v8M662.5 857.2v8M871.3 857.2v8M1080.2 857.2v8M1289.0 857.2v8M226.0 1620.6v-8M440.8 1620.6v-8M655.2 1620.6v-8M869.6 1620.6v-8M1084.1 1620.6v-8M1298.2 1620.6v-8M129.4 1070.3h8M129.4 1309.7h8M129.4 1549.4h8M1324.2 1079.6h-8M1324.2 1318.7h-8M1324.2 1557.8h-8" stroke="#2b2b2b" stroke-width="1.4" fill="none"/>
<text x="226.0" y="1635.3" font-size="15.5" fill="#111" text-anchor="middle" style="font-family:'DejaVu Sans','Liberation Sans',sans-serif" textLength="45" lengthAdjust="spacingAndGlyphs">18.0°O</text>
<text x="440.8" y="1635.3" font-size="15.5" fill="#111" text-anchor="middle" style="font-family:'DejaVu Sans','Liberation Sans',sans-serif" textLength="45" lengthAdjust="spacingAndGlyphs">17.1°O</text>
<text x="655.2" y="1635.3" font-size="15.5" fill="#111" text-anchor="middle" style="font-family:'DejaVu Sans','Liberation Sans',sans-serif" textLength="45" lengthAdjust="spacingAndGlyphs">16.2°O</text>
<text x="869.6" y="1635.3" font-size="15.5" fill="#111" text-anchor="middle" style="font-family:'DejaVu Sans','Liberation Sans',sans-serif" textLength="45" lengthAdjust="spacingAndGlyphs">15.3°O</text>
<text x="1084.1" y="1635.3" font-size="15.5" fill="#111" text-anchor="middle" style="font-family:'DejaVu Sans','Liberation Sans',sans-serif" textLength="45" lengthAdjust="spacingAndGlyphs">14.4°O</text>
<text x="1298.2" y="1635.3" font-size="15.5" fill="#111" text-anchor="middle" style="font-family:'DejaVu Sans','Liberation Sans',sans-serif" textLength="45" lengthAdjust="spacingAndGlyphs">13.5°O</text>
<text transform="translate(125 1070.8) rotate(-90)" font-size="8.6" fill="#111" text-anchor="middle" style="font-family:'DejaVu Sans',sans-serif" textLength="44" lengthAdjust="spacingAndGlyphs">28.8°N</text>
<text transform="translate(113.4 1062.8) rotate(-90) scale(1 -1)" font-size="7.6" fill="#111" text-anchor="middle" style="font-family:'DejaVu Sans',sans-serif" textLength="43" lengthAdjust="spacingAndGlyphs">28.8°N</text>
<text transform="translate(125 1310.2) rotate(-90)" font-size="8.6" fill="#111" text-anchor="middle" style="font-family:'DejaVu Sans',sans-serif" textLength="44" lengthAdjust="spacingAndGlyphs">27.9°N</text>
<text transform="translate(113.4 1302.2) rotate(-90) scale(1 -1)" font-size="7.6" fill="#111" text-anchor="middle" style="font-family:'DejaVu Sans',sans-serif" textLength="43" lengthAdjust="spacingAndGlyphs">27.9°N</text>
<text transform="translate(125 1549.9) rotate(-90)" font-size="8.6" fill="#111" text-anchor="middle" style="font-family:'DejaVu Sans',sans-serif" textLength="44" lengthAdjust="spacingAndGlyphs">27.0°N</text>
<text transform="translate(113.4 1541.9) rotate(-90) scale(1 -1)" font-size="7.6" fill="#111" text-anchor="middle" style="font-family:'DejaVu Sans',sans-serif" textLength="43" lengthAdjust="spacingAndGlyphs">27.0°N</text>
<text transform="translate(189.7 891.6) scale(1 1.14)" font-size="25.5" fill="#000" stroke="#000" stroke-width="0.5" text-anchor="middle">N</text>
<path d="M190.3 891L222.6 975.4L190.3 946.4L158 975.4Z" fill="#000"/>
<path d="M190.3 891L158 975.4L190.3 946.4Z" fill="#0e0a0a"/>
<path d="M190.3 891L222.6 975.4L190.3 946.4L158 975.4Z" fill="none" stroke="#31272a" stroke-width="1.9" stroke-linejoin="round"/>
<text class="ser" x="230.8" y="1022.7" font-size="20" font-weight="bold" fill="#000">La Palma</text>
<text class="ser" x="539.9" y="1111.1" font-size="20" font-weight="bold" fill="#000">Tenerife</text>
<text class="ser" x="197.9" y="1301.8" font-size="20" font-weight="bold" fill="#000">El Hierro</text>
<text class="ser" x="366.9" y="1333.2" font-size="20" font-weight="bold" fill="#000">La Gomera</text>
<text class="ser" x="743.2" y="1409.8" font-size="20" font-weight="bold" fill="#000">Gran Canaria</text>
<text class="ser" x="1029.2" y="1319.5" font-size="20" font-weight="bold" fill="#000">Fuerteventura</text>
<text class="ser" x="1211.3" y="906.0" font-size="20" font-weight="bold" fill="#000">Lanzarote</text>
<rect x="166.6" y="1557.4" width="239.5" height="12.5" fill="#fff" stroke="#000" stroke-width="1.2"/>
<rect x="166.6" y="1557.4" width="120.6" height="12.5" fill="#000"/>
<text x="166.5" y="1544.4" font-size="16" fill="#000" text-anchor="middle" style="font-family:'DejaVu Sans',sans-serif" letter-spacing="-0.6">0</text>
<text x="286.2" y="1544.4" font-size="16" fill="#000" text-anchor="middle" style="font-family:'DejaVu Sans',sans-serif" letter-spacing="-0.6">50</text>
<text x="392.6" y="1544.4" font-size="16" fill="#000" text-anchor="start" style="font-family:'DejaVu Sans',sans-serif" letter-spacing="-0.6">100 km</text>
<text class="ser" x="1028.7" y="1460.9" font-size="23.7" font-weight="bold" fill="#000"><tspan font-style="italic">D. africanum</tspan> density</text>
<circle cx="1043.4" cy="1479.2" r="6.6" fill="#f0043a" stroke="#111" stroke-width="1.3"/>
<circle cx="1043.4" cy="1506.2" r="6.6" fill="#3aa635" stroke="#111" stroke-width="1.3"/>
<text class="ser" x="1067.2" y="1484.7" font-size="17.5" fill="#111">Absence (0 ind/m2)</text>
<text class="ser" x="1067.2" y="1511.8" font-size="17.5" fill="#111">Presence (&gt; 0 ind/m2)</text>
<rect x="1022.3" y="1540.6" width="241.6" height="26.2" fill="url(#cbar)" stroke="#000" stroke-width="2"/>
<text class="ser" x="1139.5" y="1560.2" font-size="17" font-weight="bold" fill="#1d4e7e" text-anchor="middle">ind/m2</text>
<text class="ser" x="1017" y="1584.1" font-size="17" fill="#111" text-anchor="middle">0</text>
<text class="ser" x="1270" y="1584.1" font-size="17" fill="#111" text-anchor="middle">0.35</text>
<!-- panel c -->
<text class="ser" x="21.7" y="1743.3" font-size="83.5" font-weight="bold" fill="#000">c<tspan dx="2.5">)</tspan></text>
<path d="M179.2 1816.5V2370.6H1263.7" fill="none" stroke="#000" stroke-width="1.8"/>
<line x1="173.7" x2="179.2" y1="1864.3" y2="1864.3" stroke="#000" stroke-width="1.6"/>
<text x="171.3" y="1871.9" font-size="21.5" font-weight="bold" fill="#4d4d4d" text-anchor="end">0.03</text>
<line x1="173.7" x2="179.2" y1="2020.6" y2="2020.6" stroke="#000" stroke-width="1.6"/>
<text x="171.3" y="2028.2" font-size="21.5" font-weight="bold" fill="#4d4d4d" text-anchor="end">0.02</text>
<line x1="173.7" x2="179.2" y1="2177.0" y2="2177.0" stroke="#000" stroke-width="1.6"/>
<text x="171.3" y="2184.6" font-size="21.5" font-weight="bold" fill="#4d4d4d" text-anchor="end">0.01</text>
<line x1="173.7" x2="179.2" y1="2334.0" y2="2334.0" stroke="#000" stroke-width="1.6"/>
<text x="171.3" y="2341.6" font-size="21.5" font-weight="bold" fill="#4d4d4d" text-anchor="end">0.00</text>
<text transform="translate(94.6 2095.5) rotate(-90)" font-size="26" fill="#000" text-anchor="middle"><tspan font-style="italic" letter-spacing="1.85">D. africanum</tspan><tspan dx="6.5" font-size="26.7">(ind/m²)</tspan></text>
<path d="M245.5 2287.3H271.5M245.5 2341.5H271.5M258.5 2287.3V2341.5" stroke="#000" stroke-width="2.5" fill="none"/>
<path d="M378.0 2022.4H404.0M378.0 2269.7H404.0M391.0 2022.4V2269.7" stroke="#000" stroke-width="2.5" fill="none"/>
<path d="M510.0 2298.3H536.0M510.0 2345.5H536.0M523.0 2298.3V2345.5" stroke="#000" stroke-width="2.5" fill="none"/>
<path d="M642.5 2308.4H668.5M642.5 2342.5H668.5M655.5 2308.4V2342.5" stroke="#000" stroke-width="2.5" fill="none"/>
<path d="M775.0 2334.0H801.0M775.0 2334.0H801.0M788.0 2334.0V2334.0" stroke="#000" stroke-width="2.5" fill="none"/>
<path d="M907.0 2280.3H933.0M907.0 2337.5H933.0M920.0 2280.3V2337.5" stroke="#000" stroke-width="2.5" fill="none"/>
<path d="M1039.5 2251.6H1065.5M1039.5 2333.0H1065.5M1052.5 2251.6V2333.0" stroke="#000" stroke-width="2.5" fill="none"/>
<path d="M1172.0 1841.4H1198.0M1172.0 2274.2H1198.0M1185.0 1841.4V2274.2" stroke="#000" stroke-width="2.5" fill="none"/>
<path d="M258.5 2305.2L267.7 2314.4L258.5 2323.6L249.3 2314.4Z" fill="#0000ff"/>
<line x1="258.5" x2="258.5" y1="2370.6" y2="2376.3" stroke="#000" stroke-width="1.6"/>
<text transform="translate(268.2 2390.8) rotate(-45)" font-size="21.3" font-weight="bold" fill="#4d4d4d" text-anchor="end">El Hierro</text>
<path d="M391.0 2137.0L400.2 2146.2L391.0 2155.4L381.8 2146.2Z" fill="#0000ff"/>
<line x1="391.0" x2="391.0" y1="2370.6" y2="2376.3" stroke="#000" stroke-width="1.6"/>
<text transform="translate(400.7 2390.8) rotate(-45)" font-size="21.3" font-weight="bold" fill="#4d4d4d" text-anchor="end">La Palma</text>
<path d="M523.0 2313.2L532.2 2322.4L523.0 2331.6L513.8 2322.4Z" fill="#0000ff"/>
<line x1="523.0" x2="523.0" y1="2370.6" y2="2376.3" stroke="#000" stroke-width="1.6"/>
<text transform="translate(532.7 2390.8) rotate(-45)" font-size="21.3" font-weight="bold" fill="#4d4d4d" text-anchor="end">La Gomera</text>
<path d="M655.5 2315.7L664.7 2324.9L655.5 2334.1L646.3 2324.9Z" fill="#0000ff"/>
<line x1="655.5" x2="655.5" y1="2370.6" y2="2376.3" stroke="#000" stroke-width="1.6"/>
<text transform="translate(665.2 2390.8) rotate(-45)" font-size="21.3" font-weight="bold" fill="#4d4d4d" text-anchor="end">Tenerife</text>
<path d="M788.0 2324.8L797.2 2334.0L788.0 2343.2L778.8 2334.0Z" fill="#0000ff"/>
<line x1="788.0" x2="788.0" y1="2370.6" y2="2376.3" stroke="#000" stroke-width="1.6"/>
<text transform="translate(797.7 2390.8) rotate(-45)" font-size="21.3" font-weight="bold" fill="#4d4d4d" text-anchor="end">Gran Canaria</text>
<path d="M920.0 2299.7L929.2 2308.9L920.0 2318.1L910.8 2308.9Z" fill="#0000ff"/>
<line x1="920.0" x2="920.0" y1="2370.6" y2="2376.3" stroke="#000" stroke-width="1.6"/>
<text transform="translate(929.7 2390.8) rotate(-45)" font-size="21.3" font-weight="bold" fill="#4d4d4d" text-anchor="end">Fuerteventura</text>
<path d="M1052.5 2283.1L1061.7 2292.3L1052.5 2301.5L1043.3 2292.3Z" fill="#0000ff"/>
<line x1="1052.5" x2="1052.5" y1="2370.6" y2="2376.3" stroke="#000" stroke-width="1.6"/>
<text transform="translate(1062.2 2390.8) rotate(-45)" font-size="21.3" font-weight="bold" fill="#4d4d4d" text-anchor="end">Lobos</text>
<path d="M1185.0 2048.5L1194.2 2057.7L1185.0 2066.9L1175.8 2057.7Z" fill="#0000ff"/>
<line x1="1185.0" x2="1185.0" y1="2370.6" y2="2376.3" stroke="#000" stroke-width="1.6"/>
<text transform="translate(1194.7 2390.8) rotate(-45)" font-size="21.3" font-weight="bold" fill="#4d4d4d" text-anchor="end">Lanzarote</text>
</svg>
</body></html>
